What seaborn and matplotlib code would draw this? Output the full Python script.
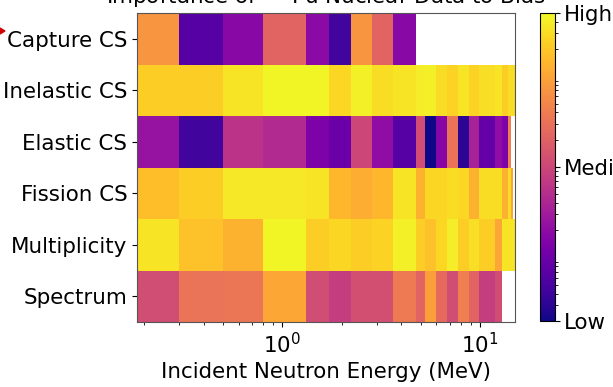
import numpy as np
import matplotlib
matplotlib.use("Agg")
import matplotlib.pyplot as plt
from matplotlib.colors import LogNorm
from matplotlib.patches import Polygon
from matplotlib.ticker import NullFormatter
import seaborn as sns

nan = np.nan

# Energy group edges (MeV)
edges = [0.184, 0.3, 0.5, 0.8, 1.32, 1.73, 2.21, 2.83, 3.64, 4.72, 5.26, 6.0,
         6.76, 7.69, 8.8, 9.9, 11.9, 12.9, 13.9, 14.3, 14.7, 15.0]

rows = ["Capture CS", "Inelastic CS", "Elastic CS", "Fission CS", "Multiplicity", "Spectrum"]

capture = [7.1, 0.065, 0.18, 2.2, 0.19, 0.044, 7.1, 2.2, 0.18,
           nan, nan, nan, nan, nan, nan, nan, nan, nan, nan, nan, nan]
inelastic = [22.9, 22.9, 33.8, 46.2, 46.2, 26.7, 42.8, 28.9, 33.8, 39.5, 42.8,
             28.9, 24.7, 33.8, 24.7, 31.3, 33.8, 22.9, 28.9, 28.9, 28.9]
elastic = [0.245, 0.044, 0.58, 0.46, 0.14, 0.10, 1.0, 0.21, 0.065, 1.2, 0.021,
           0.165, 3.24, 0.03, 0.36, 0.082, 0.21, 0.14, 4.1, nan, nan]
fission = [16.7, 22.9, 36.6, 36.6, 33.8, 14.3, 12.2, 14.3, 33.8, 13.2, 26.7,
           26.7, 28.9, 26.7, 13.2, 28.9, 28.9, 13.2, 28.9, 10.0, nan]
multiplicity = [33.8, 18.1, 13.2, 46.2, 22.9, 26.7, 22.9, 24.7, 42.8, 22.9, 18.1,
                26.7, 39.5, 22.9, 31.3, 22.9, 10.5, 33.8, 33.8, 33.8, 33.8]
spectrum = [1.17, 3.24, 3.5, 10.5, 1.17, 0.79, 1.26, 1.26, 3.78, 2.19, 8.9,
            2.56, 1.17, 4.1, 2.19, 0.79, 1.17, nan, nan, nan, nan]

vmin, vmid, vmax = 0.02, 1.0, 50.0
cbar_labels = ["Low", "Medium", "High"]

plt.rcParams['font.family'] = ['DejaVu Sans']
FS = 15.4

Z = np.ma.masked_invalid(np.array([capture, inelastic, elastic, fission, multiplicity, spectrum]))
cmap = sns.color_palette("plasma", as_cmap=True)

fig = plt.figure(figsize=(6.13, 3.87), dpi=100)
ax = fig.add_axes([137 / 613, 1 - 322 / 387, (515 - 137) / 613, (322 - 13) / 387])
cax = fig.add_axes([539.5 / 613, 1 - 321 / 387, 15 / 613, (321 - 13) / 387])

mesh = ax.pcolormesh(edges, np.arange(len(rows) + 1), Z, cmap=cmap,
                     norm=LogNorm(vmin=vmin, vmax=vmax), shading="flat")
ax.set_xscale("log")
ax.set_xlim(edges[0], edges[-1])
ax.set_ylim(len(rows), 0)
ax.set_yticks(np.arange(len(rows)) + 0.5)
ax.set_yticklabels(rows, fontsize=FS)
ax.tick_params(axis="x", labelsize=FS)
ax.set_xlabel("Incident Neutron Energy (MeV)", fontsize=FS)
ax.set_title(r"Importance of $^{239}$Pu Nuclear Data to Bias", fontsize=FS)
for s in ax.spines.values():
    s.set_edgecolor("#555555")

cbar = fig.colorbar(mesh, cax=cax)
cbar.set_ticks([vmin, vmid, vmax])
cbar.set_ticklabels(cbar_labels)
cbar.ax.yaxis.set_minor_formatter(NullFormatter())
cbar.ax.tick_params(labelsize=FS)

# small red arrow head at the left edge
tri = Polygon([[-1 / 613, 1 - 27.5 / 387], [5 / 613, 1 - 31 / 387], [-1 / 613, 1 - 34.5 / 387]],
              closed=True, transform=fig.transFigure, color="#d00000", clip_on=False)
fig.patches.append(tri)

fig.savefig("out.png", dpi=100)
